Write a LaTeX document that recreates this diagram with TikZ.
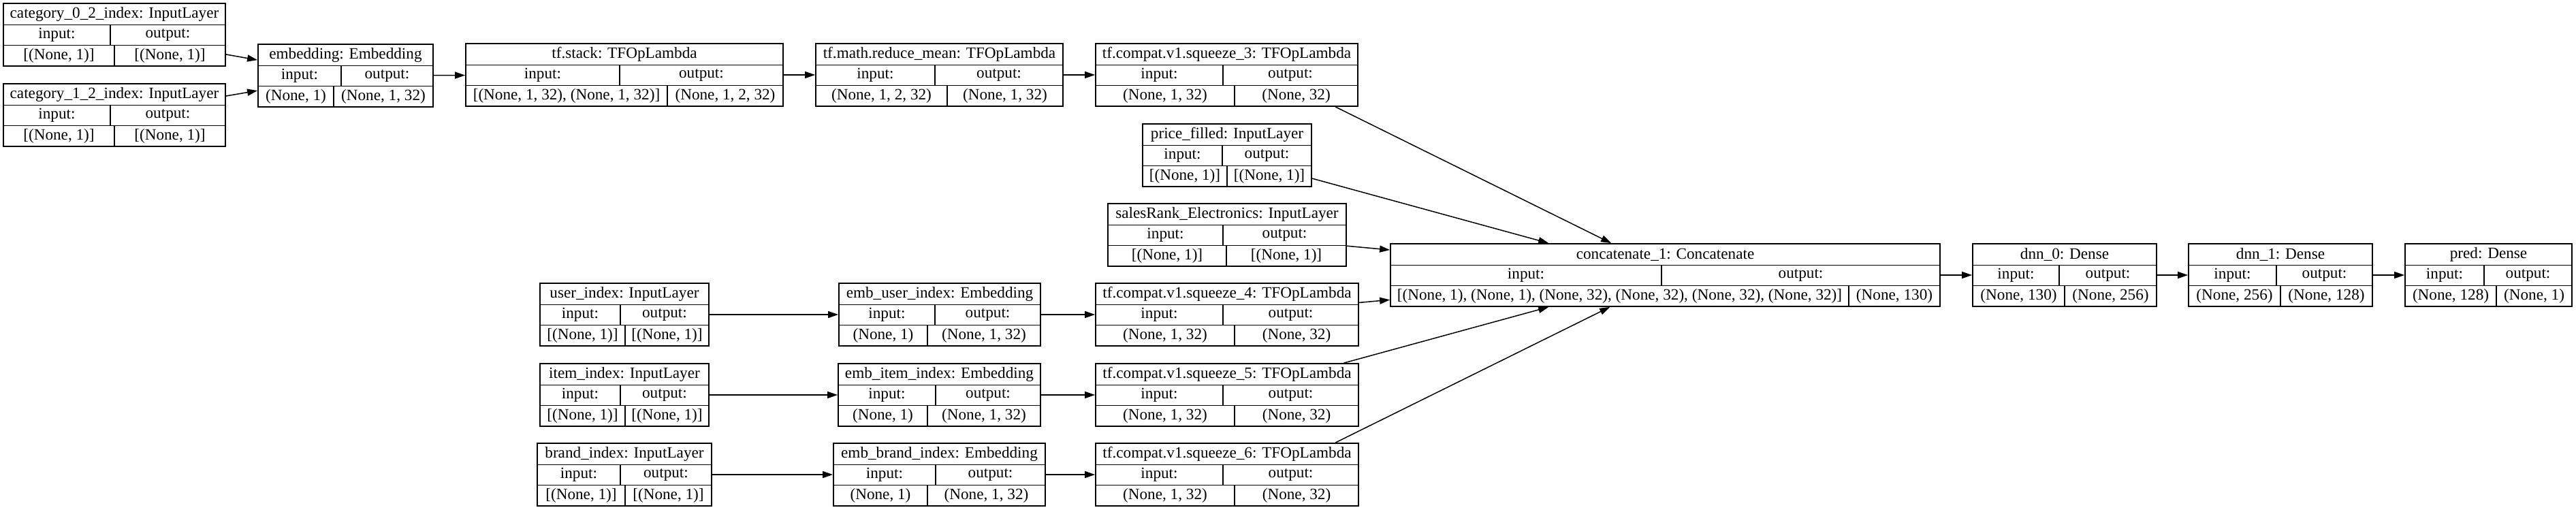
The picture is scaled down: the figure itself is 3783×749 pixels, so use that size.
\documentclass[tikz,border=0pt]{standalone}
\usepackage{fontspec}
\setmainfont{Liberation Serif}
\usepackage{tikz}
\usetikzlibrary{arrows.meta,fit,calc}

% #1 name, #2 left, #3 top, #4 right, #5/#6 splits of the two lower rows
\newcommand{\layerBox}[9]{%
    \node[layerFrame, fit={(#2,#3) (#4,#3+92)}] (#1) {};
    \draw[cellLine] (#2,#3+31.5) -- (#4,#3+31.5);
    \draw[cellLine] (#2,#3+61.5) -- (#4,#3+61.5);
    \draw[cellLine] (#5,#3+31.5) -- (#5,#3+61.5);
    \draw[cellLine] (#6,#3+61.5) -- (#6,#3+92);
    \node[cellText] (#1-title) at ({(#2+#4)/2},#3+16) {#7};
    \node[cellText] (#1-in) at ({(#2+#5)/2},#3+46.5) {input:};
    \node[cellText] (#1-out) at ({(#5+#4)/2},#3+46.5) {output:};
    \node[cellText] (#1-inshape) at ({(#2+#6)/2},#3+77) {#8};
    \node[cellText] (#1-outshape) at ({(#6+#4)/2},#3+77) {#9};
}

\begin{document}
\begin{tikzpicture}[
        x=0.5pt, y=-0.5pt,
        layerFrame/.style={draw, inner sep=0pt, line width=0.9pt},
        cellLine/.style={line width=0.9pt},
        cellText/.style={inner sep=0pt, font=\fontsize{11.6}{13}\selectfont},
        flow/.style={-{Triangle[length=7.5pt, width=5pt]}, line width=0.75pt}
    ]
        \useasboundingbox (0,0) rectangle (3783,749);

        \layerBox{cat0}{5}{5}{331}{162}{168}{category\_0\_2\_index: InputLayer}{[(None, 1)]}{[(None, 1)]}
        \layerBox{cat1}{5}{123}{331}{162}{168}{category\_1\_2\_index: InputLayer}{[(None, 1)]}{[(None, 1)]}
        \layerBox{emb}{379}{65}{636}{501}{490}{embedding: Embedding}{(None, 1)}{(None, 1, 32)}
        \layerBox{stack}{684}{64}{1150}{910}{980}{tf.stack: TFOpLambda}{[(None, 1, 32), (None, 1, 32)]}{(None, 1, 2, 32)}
        \layerBox{mean}{1198}{64}{1561}{1373}{1391}{tf.math.reduce\_mean: TFOpLambda}{(None, 1, 2, 32)}{(None, 1, 32)}
        \layerBox{sq3}{1609}{64}{1994}{1796}{1813}{tf.compat.v1.squeeze\_3: TFOpLambda}{(None, 1, 32)}{(None, 32)}
        \layerBox{price}{1678}{182}{1926}{1795}{1802}{price\_filled: InputLayer}{[(None, 1)]}{[(None, 1)]}
        \layerBox{sales}{1627}{299}{1977}{1796}{1801}{salesRank\_Electronics: InputLayer}{[(None, 1)]}{[(None, 1)]}

        \layerBox{user}{793}{416}{1041}{911}{918}{user\_index: InputLayer}{[(None, 1)]}{[(None, 1)]}
        \layerBox{item}{793}{534}{1041}{911}{918}{item\_index: InputLayer}{[(None, 1)]}{[(None, 1)]}
        \layerBox{brand}{789}{651}{1045}{911}{918}{brand\_index: InputLayer}{[(None, 1)]}{[(None, 1)]}
        \layerBox{embu}{1232}{416}{1528}{1373}{1362}{emb\_user\_index: Embedding}{(None, 1)}{(None, 1, 32)}
        \layerBox{embi}{1231}{534}{1528}{1374}{1362}{emb\_item\_index: Embedding}{(None, 1)}{(None, 1, 32)}
        \layerBox{embb}{1224}{651}{1535}{1374}{1362}{emb\_brand\_index: Embedding}{(None, 1)}{(None, 1, 32)}
        \layerBox{sq4}{1609}{416}{1995}{1796}{1813}{tf.compat.v1.squeeze\_4: TFOpLambda}{(None, 1, 32)}{(None, 32)}
        \layerBox{sq5}{1609}{534}{1995}{1796}{1813}{tf.compat.v1.squeeze\_5: TFOpLambda}{(None, 1, 32)}{(None, 32)}
        \layerBox{sq6}{1609}{651}{1995}{1796}{1813}{tf.compat.v1.squeeze\_6: TFOpLambda}{(None, 1, 32)}{(None, 32)}

        \layerBox{concat}{2042}{358}{2849}{2440}{2715}{concatenate\_1: Concatenate}{[(None, 1), (None, 1), (None, 32), (None, 32), (None, 32), (None, 32)]}{(None, 130)}
        \layerBox{dnn0}{2897}{358}{3167}{3024}{3032}{dnn\_0: Dense}{(None, 130)}{(None, 256)}
        \layerBox{dnn1}{3214}{358}{3484}{3343}{3349}{dnn\_1: Dense}{(None, 256)}{(None, 128)}
        \layerBox{pred}{3532}{358}{3777}{3648}{3666}{pred: Dense}{(None, 128)}{(None, 1)}

        \draw[flow] (cat0) -- (emb);
        \draw[flow] (cat1) -- (emb);
        \draw[flow] (emb) -- (stack);
        \draw[flow] (stack) -- (mean);
        \draw[flow] (mean) -- (sq3);
        \draw[flow] ($(sq3.south west)+(353,0)$) -- ($(concat.north west)+(325,0)$);
        \draw[flow] (price) -- (concat);
        \draw[flow] (sales) -- (concat);

        \draw[flow] (user) -- (embu);
        \draw[flow] (item) -- (embi);
        \draw[flow] (brand) -- (embb);
        \draw[flow] (embu) -- (sq4);
        \draw[flow] (embi) -- (sq5);
        \draw[flow] (embb) -- (sq6);
        \draw[flow] (sq4) -- (concat);
        \draw[flow] (sq5) -- (concat);
        \draw[flow] ($(sq6.north west)+(353,0)$) -- ($(concat.south west)+(323,0)$);

        \draw[flow] (concat) -- (dnn0);
        \draw[flow] (dnn0) -- (dnn1);
        \draw[flow] (dnn1) -- (pred);
    \end{tikzpicture}
\end{document}
